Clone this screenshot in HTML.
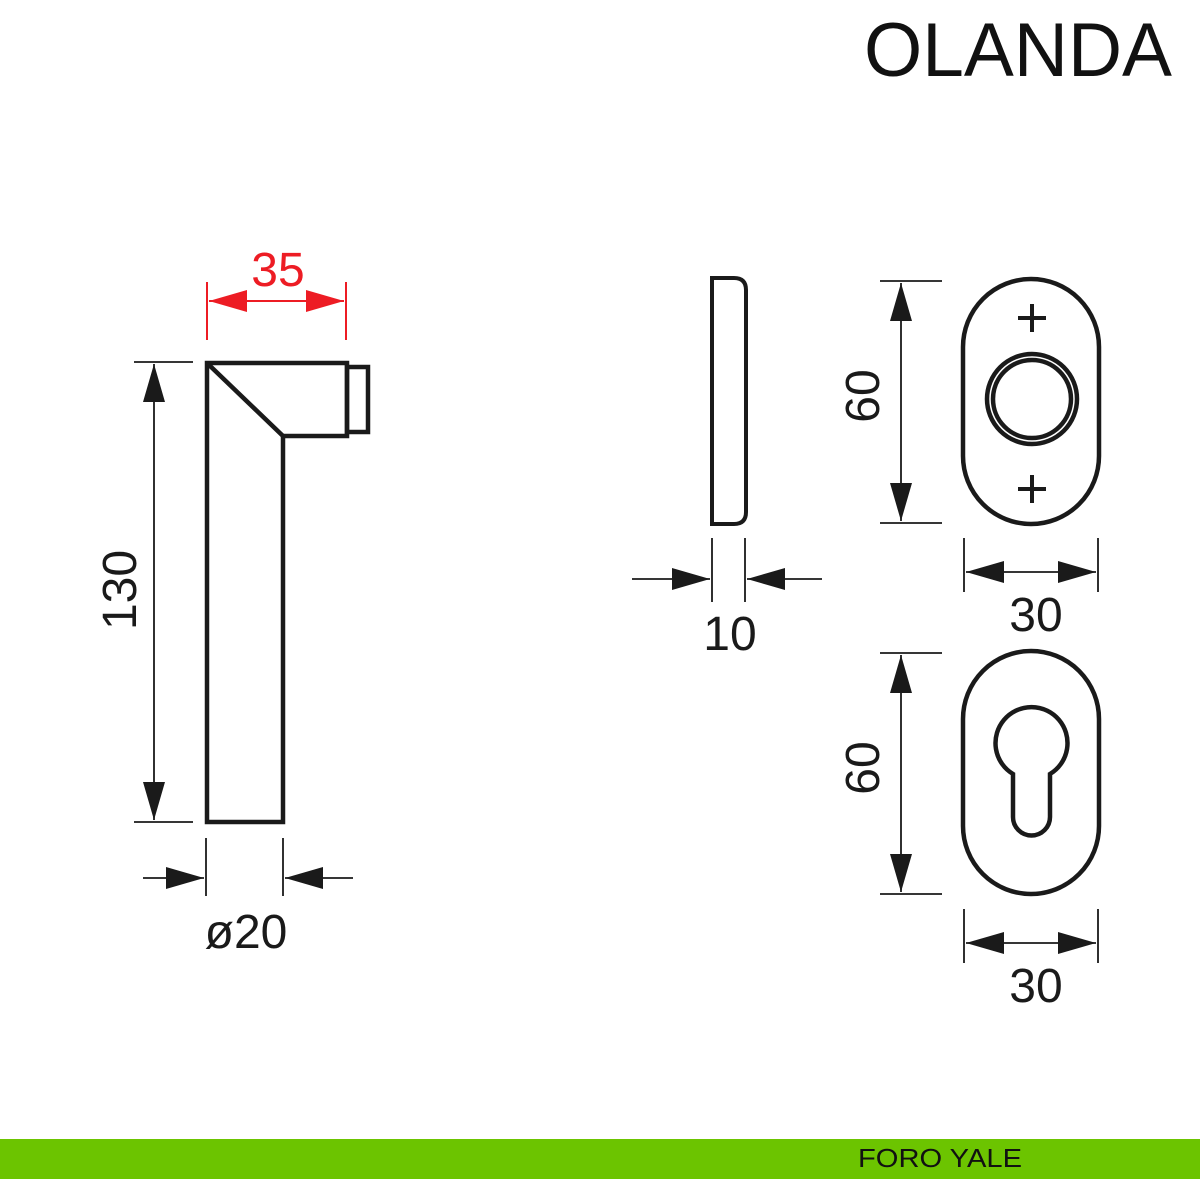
<!DOCTYPE html>
<html><head><style>
html,body{margin:0;padding:0;background:#fff}
svg{display:block}
text{font-family:"Liberation Sans",sans-serif}
</style></head><body>
<svg width="1200" height="1200" viewBox="0 0 1200 1200" xmlns="http://www.w3.org/2000/svg">
<defs>
<marker id="a" markerWidth="40" markerHeight="24" refX="38" refY="12" orient="auto-start-reverse" markerUnits="userSpaceOnUse"><path d="M0,1 L38,12 L0,23 Z" fill="#1a1a1a"/></marker>
<marker id="r" markerWidth="40" markerHeight="24" refX="38" refY="12" orient="auto-start-reverse" markerUnits="userSpaceOnUse"><path d="M0,1 L38,12 L0,23 Z" fill="#ed1c24"/></marker>
</defs>
<text x="1172" y="76" font-size="76" text-anchor="end" fill="#111" textLength="308" lengthAdjust="spacingAndGlyphs">OLANDA</text>

<g fill="none" stroke="#1a1a1a" stroke-width="4.5" stroke-linejoin="miter">
<path d="M207,363 H347 V436 H283 V822 H207 Z"/>
<path d="M207,363 L283,436"/>
<rect x="347" y="367" width="21" height="65"/>
</g>
<g stroke="#ed1c24" stroke-width="2" fill="none">
<line x1="207" y1="282" x2="207" y2="340"/>
<line x1="346" y1="282" x2="346" y2="340"/>
<line x1="209" y1="301" x2="344" y2="301" marker-start="url(#r)" marker-end="url(#r)"/>
</g>
<text x="278" y="286" font-size="48" text-anchor="middle" fill="#ed1c24">35</text>
<g stroke="#1a1a1a" stroke-width="1.8" fill="none">
<line x1="134" y1="362" x2="193" y2="362"/>
<line x1="134" y1="822" x2="193" y2="822"/>
<line x1="154" y1="364" x2="154" y2="820" marker-start="url(#a)" marker-end="url(#a)"/>
<line x1="206" y1="838" x2="206" y2="896"/>
<line x1="283" y1="838" x2="283" y2="896"/>
<line x1="143" y1="878" x2="204" y2="878" marker-end="url(#a)"/>
<line x1="353" y1="878" x2="285" y2="878" marker-end="url(#a)"/>
</g>
<text transform="translate(136,590) rotate(-90)" font-size="48" text-anchor="middle" fill="#1a1a1a">130</text>
<text x="246" y="948" font-size="48" text-anchor="middle" fill="#1a1a1a">ø20</text>

<path d="M712,278 H734 Q746,278 746,290 V512 Q746,524 734,524 H712 Z" fill="none" stroke="#1a1a1a" stroke-width="4"/>
<g stroke="#1a1a1a" stroke-width="1.8" fill="none">
<line x1="712" y1="538" x2="712" y2="602"/>
<line x1="745" y1="538" x2="745" y2="602"/>
<line x1="632" y1="579" x2="710" y2="579" marker-end="url(#a)"/>
<line x1="822" y1="579" x2="747" y2="579" marker-end="url(#a)"/>
</g>
<text x="730" y="650" font-size="48" text-anchor="middle" fill="#1a1a1a">10</text>

<g fill="none" stroke="#1a1a1a" stroke-width="4.5">
<rect x="963" y="279" width="136" height="245" rx="68" ry="68"/>
<circle cx="1032" cy="399" r="45"/>
<circle cx="1032" cy="399" r="39"/>
<path d="M1018,318 H1046 M1032,304 V332 M1018,489 H1046 M1032,475 V503" stroke-width="4"/>
</g>
<g stroke="#1a1a1a" stroke-width="1.8" fill="none">
<line x1="880" y1="281" x2="942" y2="281"/>
<line x1="880" y1="523" x2="942" y2="523"/>
<line x1="901" y1="283" x2="901" y2="521" marker-start="url(#a)" marker-end="url(#a)"/>
<line x1="964" y1="538" x2="964" y2="592"/>
<line x1="1098" y1="538" x2="1098" y2="592"/>
<line x1="966" y1="572" x2="1096" y2="572" marker-start="url(#a)" marker-end="url(#a)"/>
</g>
<text transform="translate(879,396) rotate(-90)" font-size="48" text-anchor="middle" fill="#1a1a1a">60</text>
<text x="1036" y="631" font-size="48" text-anchor="middle" fill="#1a1a1a">30</text>

<g fill="none" stroke="#1a1a1a" stroke-width="4.5">
<rect x="963" y="651" width="136" height="243" rx="68" ry="68"/>
<path d="M1013,774 A36,36 0 1 1 1050,774 V817 A18.5,18.5 0 0 1 1013,817 Z"/>
</g>
<g stroke="#1a1a1a" stroke-width="1.8" fill="none">
<line x1="880" y1="653" x2="942" y2="653"/>
<line x1="880" y1="894" x2="942" y2="894"/>
<line x1="901" y1="655" x2="901" y2="892" marker-start="url(#a)" marker-end="url(#a)"/>
<line x1="964" y1="909" x2="964" y2="963"/>
<line x1="1098" y1="909" x2="1098" y2="963"/>
<line x1="966" y1="943" x2="1096" y2="943" marker-start="url(#a)" marker-end="url(#a)"/>
</g>
<text transform="translate(879,768) rotate(-90)" font-size="48" text-anchor="middle" fill="#1a1a1a">60</text>
<text x="1036" y="1002" font-size="48" text-anchor="middle" fill="#1a1a1a">30</text>

<rect x="0" y="1139" width="1200" height="40" fill="#6cc400"/>
<text x="940" y="1167" font-size="26" text-anchor="middle" fill="#111" textLength="164" lengthAdjust="spacingAndGlyphs">FORO YALE</text>
</svg>
</body></html>
